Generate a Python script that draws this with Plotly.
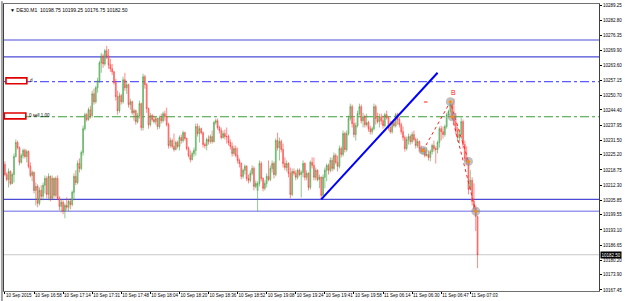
import plotly.graph_objects as go

# ---------------- data (DE30, M1) ----------------
open_ = [
    10221.1, 10216.8, 10214.7, 10218.1, 10213.0, 10216.8, 10224.5, 10230.5, 10228.3, 10222.0,
    10224.9, 10227.1, 10224.5, 10226.6, 10220.3, 10216.4, 10217.7, 10210.0, 10211.7, 10204.5,
    10210.0, 10207.5, 10212.2, 10215.1, 10208.3, 10216.0, 10206.6, 10215.1, 10207.9, 10215.1,
    10206.6, 10203.2, 10204.9, 10201.1, 10203.6, 10202.8, 10205.3, 10204.0, 10209.2, 10216.0,
    10213.4, 10221.5, 10219.4, 10226.2, 10236.4, 10242.4, 10240.3, 10244.5, 10242.0, 10251.3,
    10247.9, 10253.9, 10256.9, 10264.5, 10267.5, 10264.1, 10269.7, 10267.5, 10263.7, 10262.0,
    10260.7, 10256.0, 10250.1, 10244.1, 10250.5, 10247.9, 10257.3, 10253.9, 10255.2, 10246.7,
    10247.9, 10243.2, 10244.1, 10239.4, 10242.0, 10247.1, 10236.9, 10258.6, 10255.2, 10245.0,
    10238.1, 10242.0, 10240.3, 10239.4, 10240.7, 10237.3, 10241.1, 10239.8, 10242.8, 10241.5,
    10238.1, 10229.2, 10231.3, 10228.8, 10227.5, 10230.5, 10228.8, 10232.6, 10231.3, 10234.7,
    10232.2, 10227.9, 10224.9, 10223.2, 10225.8, 10227.1, 10237.3, 10234.3, 10236.4, 10234.7,
    10229.6, 10229.2, 10231.8, 10230.9, 10233.0, 10230.9, 10239.0, 10239.8, 10236.9, 10235.6,
    10232.6, 10234.3, 10233.0, 10233.0, 10230.5, 10228.8, 10225.8, 10227.9, 10224.9, 10222.8,
    10221.5, 10216.0, 10218.6, 10220.3, 10215.1, 10214.3, 10217.3, 10219.4, 10211.7, 10210.0,
    10213.0, 10221.5, 10215.1, 10210.9, 10213.0, 10216.0, 10214.7, 10219.4, 10221.5, 10216.8,
    10231.3, 10228.3, 10230.9, 10227.5, 10221.5, 10219.8, 10221.5, 10217.3, 10208.3, 10218.1,
    10217.3, 10215.6, 10218.6, 10216.8, 10217.7, 10221.5, 10215.6, 10217.3, 10211.3, 10222.0,
    10220.7, 10215.6, 10218.6, 10214.7, 10215.6, 10207.9, 10215.6, 10218.6, 10220.7, 10218.6,
    10222.8, 10219.4, 10224.9, 10222.0, 10220.3, 10227.9, 10225.4, 10234.3, 10227.5, 10234.3,
    10240.7, 10245.8, 10238.6, 10233.9, 10237.7, 10242.8, 10245.8, 10239.8, 10241.5, 10238.1,
    10239.0, 10236.4, 10235.1, 10236.4, 10245.8, 10240.7, 10239.4, 10241.5, 10239.8, 10237.7,
    10242.4, 10241.1, 10236.9, 10235.1, 10239.0, 10237.7, 10242.4, 10240.3, 10238.1, 10235.1,
    10232.6, 10227.9, 10231.8, 10233.0, 10230.9, 10233.9, 10231.8, 10229.2, 10230.9, 10227.9,
    10226.6, 10227.1, 10224.9, 10225.4, 10224.1, 10226.6, 10229.2, 10227.9, 10227.5, 10230.5,
    10236.4, 10235.1, 10233.9, 10237.3, 10242.4, 10243.7, 10246.7, 10241.5, 10239.4, 10235.6,
    10232.6, 10233.9, 10239.4, 10229.6, 10223.7, 10222.4, 10210.4, 10214.3, 10205.3, 10202.3,
    10198.75,
]
high = [
    10222.4, 10217.7, 10219.4, 10218.6, 10217.7, 10225.8, 10231.8, 10231.3, 10228.8, 10225.8,
    10227.9, 10227.9, 10227.5, 10227.1, 10222.0, 10218.6, 10218.1, 10213.4, 10212.6, 10211.3,
    10212.2, 10213.4, 10216.4, 10216.0, 10217.3, 10216.4, 10216.4, 10215.6, 10216.0, 10216.4,
    10207.5, 10206.2, 10205.8, 10204.5, 10207.0, 10206.2, 10206.6, 10210.0, 10217.3, 10218.6,
    10222.8, 10223.7, 10227.1, 10237.7, 10243.2, 10243.2, 10245.4, 10246.2, 10252.6, 10253.5,
    10254.7, 10258.2, 10265.4, 10268.8, 10268.4, 10270.5, 10271.8, 10270.5, 10266.2, 10264.1,
    10261.1, 10257.7, 10252.6, 10251.8, 10251.3, 10258.6, 10260.3, 10256.9, 10255.6, 10249.2,
    10248.4, 10245.0, 10244.5, 10243.2, 10248.4, 10247.5, 10259.9, 10259.4, 10256.0, 10245.4,
    10243.2, 10242.8, 10242.0, 10241.5, 10241.1, 10242.0, 10242.8, 10243.7, 10244.1, 10245.4,
    10239.0, 10232.6, 10232.2, 10234.3, 10231.3, 10231.3, 10233.5, 10233.9, 10235.6, 10235.1,
    10232.6, 10228.8, 10227.1, 10226.6, 10228.3, 10238.6, 10238.6, 10237.7, 10236.9, 10235.1,
    10230.5, 10232.6, 10233.5, 10233.9, 10235.6, 10239.8, 10240.7, 10240.7, 10237.7, 10236.9,
    10235.6, 10236.0, 10236.9, 10233.9, 10231.8, 10230.5, 10229.2, 10229.2, 10228.3, 10223.7,
    10222.0, 10219.4, 10221.1, 10220.7, 10216.8, 10218.6, 10220.7, 10220.3, 10214.3, 10213.9,
    10222.8, 10222.4, 10215.6, 10214.3, 10217.3, 10222.8, 10220.7, 10222.8, 10222.4, 10232.2,
    10234.7, 10232.6, 10231.8, 10230.0, 10224.1, 10222.8, 10222.0, 10219.8, 10219.4, 10219.4,
    10218.6, 10219.4, 10219.4, 10218.6, 10222.8, 10222.0, 10218.6, 10217.7, 10222.8, 10224.1,
    10224.1, 10219.8, 10219.0, 10216.8, 10216.0, 10216.8, 10219.8, 10221.5, 10221.5, 10224.1,
    10224.1, 10226.2, 10225.8, 10224.9, 10229.2, 10228.8, 10235.6, 10235.1, 10235.6, 10242.0,
    10247.1, 10246.7, 10241.1, 10239.0, 10244.1, 10247.1, 10246.7, 10243.2, 10242.4, 10242.8,
    10239.8, 10237.7, 10237.3, 10247.1, 10246.7, 10243.2, 10242.8, 10242.8, 10242.0, 10243.2,
    10244.1, 10241.5, 10239.8, 10239.8, 10240.3, 10243.2, 10243.2, 10241.5, 10239.0, 10237.3,
    10233.5, 10233.0, 10234.3, 10233.9, 10235.1, 10235.6, 10232.6, 10232.2, 10231.3, 10229.2,
    10228.3, 10227.9, 10228.3, 10227.1, 10227.5, 10230.0, 10231.3, 10228.8, 10231.3, 10237.3,
    10237.7, 10237.3, 10238.1, 10243.2, 10244.5, 10247.9, 10247.5, 10249.2, 10243.2, 10237.3,
    10236.0, 10241.1, 10240.3, 10231.3, 10228.8, 10222.8, 10218.6, 10215.6, 10213.0, 10203.6,
    10199.25,
]
low = [
    10216.0, 10213.9, 10211.3, 10212.2, 10212.6, 10213.4, 10224.1, 10227.5, 10220.7, 10221.5,
    10223.7, 10223.7, 10222.0, 10219.4, 10215.6, 10213.9, 10208.7, 10203.6, 10202.8, 10203.6,
    10205.8, 10205.8, 10208.7, 10206.6, 10205.8, 10205.3, 10206.2, 10206.6, 10207.0, 10205.8,
    10201.5, 10200.6, 10199.8, 10198.1, 10201.5, 10201.1, 10201.9, 10203.2, 10205.8, 10212.2,
    10212.6, 10217.7, 10218.6, 10224.9, 10235.6, 10239.4, 10239.8, 10240.7, 10241.1, 10246.7,
    10247.1, 10251.8, 10256.0, 10260.3, 10262.4, 10263.3, 10266.2, 10262.0, 10260.7, 10259.4,
    10255.2, 10248.4, 10242.4, 10243.2, 10246.7, 10247.1, 10252.6, 10251.3, 10245.4, 10244.5,
    10242.4, 10239.8, 10238.1, 10238.6, 10240.7, 10235.6, 10235.6, 10253.5, 10243.2, 10236.4,
    10237.3, 10239.4, 10238.6, 10238.1, 10236.0, 10236.4, 10238.6, 10239.0, 10239.8, 10237.3,
    10227.9, 10228.3, 10227.9, 10226.6, 10227.1, 10227.9, 10227.1, 10230.0, 10230.5, 10231.3,
    10227.1, 10224.1, 10222.0, 10222.8, 10224.5, 10224.9, 10233.0, 10230.5, 10233.9, 10228.3,
    10227.9, 10227.1, 10229.6, 10230.0, 10230.0, 10230.5, 10238.1, 10236.0, 10234.3, 10231.8,
    10232.2, 10231.8, 10230.0, 10229.2, 10227.5, 10224.5, 10224.9, 10224.1, 10221.5, 10219.8,
    10214.7, 10215.1, 10216.8, 10213.9, 10213.0, 10213.4, 10216.4, 10210.0, 10210.9, 10201.1,
    10211.7, 10213.9, 10209.6, 10210.0, 10211.3, 10213.9, 10213.9, 10217.7, 10215.1, 10216.0,
    10227.1, 10222.8, 10226.2, 10219.8, 10218.6, 10218.1, 10215.6, 10206.6, 10207.5, 10216.4,
    10214.3, 10214.7, 10216.0, 10207.0, 10215.6, 10214.3, 10214.3, 10210.0, 10210.4, 10219.4,
    10214.3, 10214.3, 10213.9, 10210.9, 10206.2, 10207.5, 10210.9, 10213.9, 10216.8, 10217.7,
    10218.1, 10218.6, 10221.1, 10218.1, 10219.4, 10224.1, 10224.5, 10226.2, 10226.6, 10233.5,
    10239.8, 10236.9, 10232.6, 10231.3, 10236.9, 10242.0, 10238.6, 10236.9, 10236.9, 10237.3,
    10235.1, 10233.9, 10233.9, 10235.6, 10238.1, 10238.6, 10236.9, 10238.1, 10236.4, 10236.9,
    10240.3, 10235.6, 10234.3, 10234.3, 10236.9, 10236.9, 10238.1, 10236.9, 10233.9, 10231.3,
    10226.6, 10227.1, 10229.6, 10229.6, 10230.0, 10230.9, 10227.9, 10228.3, 10226.6, 10225.8,
    10225.4, 10224.1, 10224.5, 10222.8, 10222.4, 10225.4, 10226.6, 10221.5, 10225.8, 10228.3,
    10231.3, 10232.2, 10233.0, 10236.4, 10241.5, 10243.2, 10240.3, 10237.7, 10233.9, 10230.9,
    10230.0, 10231.8, 10227.9, 10222.4, 10221.1, 10208.3, 10210.0, 10203.6, 10201.1, 10192.6,
    10176.75,
]
close = [
    10216.8, 10214.7, 10218.1, 10213.0, 10216.8, 10224.5, 10230.5, 10228.3, 10222.0, 10224.9,
    10227.1, 10224.5, 10226.6, 10220.3, 10216.4, 10217.7, 10210.0, 10211.7, 10204.5, 10210.0,
    10207.5, 10212.2, 10215.1, 10208.3, 10216.0, 10206.6, 10215.1, 10207.9, 10215.1, 10206.6,
    10203.2, 10204.9, 10201.1, 10203.6, 10202.8, 10205.3, 10204.0, 10209.2, 10216.0, 10213.4,
    10221.5, 10219.4, 10226.2, 10236.4, 10242.4, 10240.3, 10244.5, 10242.0, 10251.3, 10247.9,
    10253.9, 10256.9, 10264.5, 10267.5, 10264.1, 10269.7, 10267.5, 10263.7, 10262.0, 10260.7,
    10256.0, 10250.1, 10244.1, 10250.5, 10247.9, 10257.3, 10253.9, 10255.2, 10246.7, 10247.9,
    10243.2, 10244.1, 10239.4, 10242.0, 10247.1, 10236.9, 10258.6, 10255.2, 10245.0, 10238.1,
    10242.0, 10240.3, 10239.4, 10240.7, 10237.3, 10241.1, 10239.8, 10242.8, 10241.5, 10238.1,
    10229.2, 10231.3, 10228.8, 10227.5, 10230.5, 10228.8, 10232.6, 10231.3, 10234.7, 10232.2,
    10227.9, 10224.9, 10223.2, 10225.8, 10227.1, 10237.3, 10234.3, 10236.4, 10234.7, 10229.6,
    10229.2, 10231.8, 10230.9, 10233.0, 10230.9, 10239.0, 10239.8, 10236.9, 10235.6, 10232.6,
    10234.3, 10233.0, 10233.0, 10230.5, 10228.8, 10225.8, 10227.9, 10224.9, 10222.8, 10221.5,
    10216.0, 10218.6, 10220.3, 10215.1, 10214.3, 10217.3, 10219.4, 10211.7, 10213.0, 10213.0,
    10221.5, 10215.1, 10210.9, 10213.0, 10216.0, 10214.7, 10219.4, 10221.5, 10216.8, 10231.3,
    10228.3, 10230.9, 10227.5, 10221.5, 10219.8, 10221.5, 10217.3, 10208.3, 10218.1, 10217.3,
    10215.6, 10218.6, 10216.8, 10217.7, 10221.5, 10215.6, 10217.3, 10211.3, 10222.0, 10220.7,
    10215.6, 10218.6, 10214.7, 10215.6, 10207.9, 10215.6, 10218.6, 10220.7, 10218.6, 10222.8,
    10219.4, 10224.9, 10222.0, 10220.3, 10227.9, 10225.4, 10234.3, 10227.5, 10234.3, 10240.7,
    10245.8, 10238.6, 10233.9, 10237.7, 10242.8, 10245.8, 10239.8, 10241.5, 10238.1, 10239.0,
    10236.4, 10235.1, 10236.4, 10245.8, 10240.7, 10239.4, 10241.5, 10239.8, 10237.7, 10242.4,
    10241.1, 10236.9, 10235.1, 10239.0, 10237.7, 10242.4, 10240.3, 10238.1, 10235.1, 10232.6,
    10227.9, 10231.8, 10233.0, 10230.9, 10233.9, 10231.8, 10229.2, 10230.9, 10227.9, 10226.6,
    10227.1, 10224.9, 10225.4, 10224.1, 10226.6, 10229.2, 10227.9, 10227.5, 10230.5, 10236.4,
    10235.1, 10233.9, 10237.3, 10242.4, 10243.7, 10246.7, 10241.5, 10239.4, 10235.6, 10232.6,
    10233.9, 10239.4, 10229.6, 10223.7, 10222.4, 10210.4, 10214.3, 10205.3, 10202.3, 10198.9,
    10182.50,
]

x_labels = ["10 Sep 2015", "10 Sep 16:58", "10 Sep 17:14", "10 Sep 17:31", "10 Sep 17:48",
            "10 Sep 18:04", "10 Sep 18:20", "10 Sep 18:36", "10 Sep 18:52", "10 Sep 19:08",
            "10 Sep 19:24", "10 Sep 19:41", "10 Sep 19:58", "11 Sep 06:14", "11 Sep 06:30",
            "11 Sep 06:47", "11 Sep 07:03"]
bars_per_label = 16
y_ticks = [10289.25, 10282.80, 10276.35, 10269.90, 10263.60, 10257.15, 10250.70, 10244.40,
           10237.95, 10231.50, 10225.20, 10218.75, 10212.30, 10205.85, 10199.55, 10193.10,
           10186.65, 10180.20, 10173.90, 10167.45]

blue_levels = [10274.3, 10267.1, 10206.2]
light_blue_level = 10201.1
pending_level = 10256.5      # "d" order line (dash-dot blue)
sell_level = 10241.5         # sell 1.00 order line (dash-dot green)
bid = 10182.50

trend_bars = [174, 238]
trend_prices = [10206.2, 10260.3]
pattern1_bars = [230, 245, 255]
pattern1_prices = [10227.1, 10247.9, 10222.4]
pattern2_bars = [246, 259]
pattern2_prices = [10241.5, 10201.1]
circle_bars = [230, 245, 246, 255, 259]
circle_prices = [10227.1, 10247.9, 10241.5, 10222.4, 10201.1]
label_b = (247, 10251.8)
title_text = "▼ DE30.M1  10198.75 10199.25 10176.75 10182.50"

FONT = "Liberation Sans, Arial, sans-serif"
bars = list(range(len(close)))

fig = go.Figure()
fig.add_trace(go.Candlestick(
    x=bars, open=open_, high=high, low=low, close=close,
    increasing=dict(line=dict(color="#359935", width=0.55), fillcolor="#a8dca8"),
    decreasing=dict(line=dict(color="#ff2a2a", width=0.55), fillcolor="#ffaaaa"),
    whiskerwidth=0, hoverinfo="skip", showlegend=False,
))

# trend line
fig.add_trace(go.Scatter(x=trend_bars, y=trend_prices, mode="lines",
                         line=dict(color="#0000ff", width=2), hoverinfo="skip"))
# pattern dotted lines
fig.add_trace(go.Scatter(x=pattern1_bars, y=pattern1_prices, mode="lines",
                         line=dict(color="#ff2020", width=1, dash="dot"), hoverinfo="skip"))
fig.add_trace(go.Scatter(x=pattern2_bars, y=pattern2_prices, mode="lines",
                         line=dict(color="#ff2020", width=1, dash="dot"), hoverinfo="skip"))
# circles
fig.add_trace(go.Scatter(x=circle_bars, y=circle_prices, mode="markers",
                         marker=dict(size=9, color="rgba(140,140,140,0.55)"), hoverinfo="skip"))
fig.add_trace(go.Scatter(x=circle_bars, y=circle_prices, mode="markers",
                         marker=dict(size=3, color="#ff8c00"), hoverinfo="skip"))

shapes = []
for lv in blue_levels:
    shapes.append(dict(type="line", xref="paper", x0=0, x1=1, yref="y", y0=lv, y1=lv,
                       line=dict(color="#4b4bd6", width=1.2), layer="below"))
shapes.append(dict(type="line", xref="paper", x0=0, x1=1, yref="y", y0=light_blue_level,
                   y1=light_blue_level, line=dict(color="#9a9aee", width=1.5), layer="below"))
shapes.append(dict(type="line", xref="paper", x0=0, x1=1, yref="y", y0=pending_level,
                   y1=pending_level, line=dict(color="#5a5aff", width=1.1, dash="dashdot"), layer="below"))
shapes.append(dict(type="line", xref="paper", x0=0, x1=1, yref="y", y0=sell_level,
                   y1=sell_level, line=dict(color="#3aa03a", width=1.1, dash="dashdot"), layer="below"))
shapes.append(dict(type="line", xref="paper", x0=0, x1=1, yref="y", y0=bid, y1=bid,
                   line=dict(color="#c8c8c8", width=1), layer="below"))
# small red mark near the pattern
shapes.append(dict(type="line", xref="x", x0=230.5, x1=232.5, yref="y", y0=10247.8, y1=10247.8,
                   line=dict(color="#ff2020", width=1)))
# red label boxes of the order lines
shapes.append(dict(type="rect", xref="paper", x0=0.0033, x1=0.0384, yref="y",
                   y0=pending_level - 0.9, y1=pending_level + 1.6,
                   line=dict(color="#e00000", width=1.6), fillcolor="white"))
shapes.append(dict(type="rect", xref="paper", x0=0.0005, x1=0.0367, yref="y",
                   y0=sell_level - 0.9, y1=sell_level + 1.6,
                   line=dict(color="#e00000", width=1.6), fillcolor="white"))
# window borders
shapes.append(dict(type="line", xref="paper", x0=-0.0035, x1=-0.0035, yref="paper", y0=-0.04, y1=1.01,
                   line=dict(color="#a0a0a0", width=2)))

annotations = [
    dict(text=title_text, xref="paper", yref="paper", x=0.006, y=0.995, xanchor="left",
         yanchor="top", showarrow=False, font=dict(family=FONT, size=5, color="#000000")),
    dict(text="B", x=label_b[0], y=label_b[1], xref="x", yref="y", showarrow=False,
         font=dict(family=FONT, size=7, color="#ff2020")),
    dict(text="d", xref="paper", x=0.041, y=pending_level + 0.6, yref="y", xanchor="left",
         showarrow=False, font=dict(family=FONT, size=4.5, color="#000000")),
    dict(text="0 sell 1.00", xref="paper", x=0.038, y=sell_level + 0.6, yref="y", xanchor="left",
         showarrow=False, font=dict(family=FONT, size=4.5, color="#000000")),
    dict(text="%.2f" % bid, xref="paper", x=1.0, y=bid, yref="y", xanchor="left", xshift=1,
         showarrow=False, bgcolor="#000000", borderpad=0.5,
         font=dict(family=FONT, size=4.5, color="#ffffff")),
]

fig.update_layout(
    width=625, height=301,
    margin=dict(l=3, r=23, t=3, b=10, pad=0),
    paper_bgcolor="white", plot_bgcolor="white",
    showlegend=False, shapes=shapes, annotations=annotations,
    font=dict(family=FONT, size=4.5, color="#000000"),
    xaxis=dict(range=[-0.5, 326.8], rangeslider=dict(visible=False), showgrid=False,
               zeroline=False, tickvals=[k * bars_per_label for k in range(len(x_labels))],
               ticktext=x_labels, ticklabelposition="outside right", tickangle=0,
               ticks="outside", ticklen=2, tickcolor="#000000",
               tickfont=dict(family=FONT, size=4.5, color="#000000"),
               showline=True, linecolor="#707070", linewidth=1, mirror=True, fixedrange=True),
    yaxis=dict(side="right", range=[10167.0, 10289.7], showgrid=False, zeroline=False,
               tickvals=y_ticks, ticktext=["%.2f" % v for v in y_ticks],
               ticks="outside", ticklen=2, tickcolor="#000000",
               tickfont=dict(family=FONT, size=4.5, color="#000000"),
               showline=True, linecolor="#404040", linewidth=1, mirror=True, fixedrange=True),
)

fig.write_html("out.html", config={"displayModeBar": False})
